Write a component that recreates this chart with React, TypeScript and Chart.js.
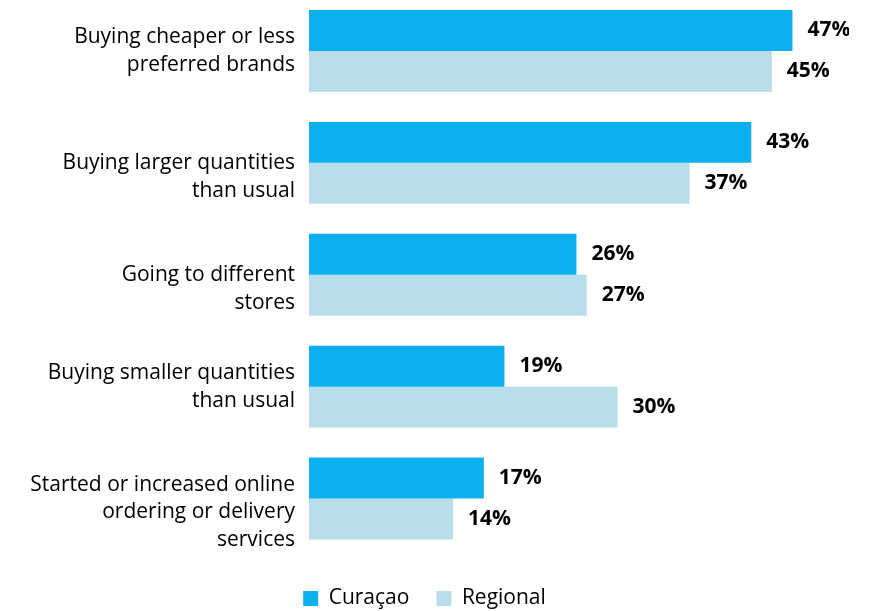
import React, { useEffect, useRef } from "react";
import { Chart, registerables } from "chart.js";

Chart.register(...registerables);

const categories: string[][] = [
  ["Buying cheaper or less", "preferred brands"],
  ["", "Buying larger quantities", "than usual"],
  ["", "Going to different", "stores"],
  ["Buying smaller quantities", "than usual"],
  ["", "Started or increased online", "ordering or delivery", "services"],
];
const curacao: number[] = [47, 43, 26, 19, 17];
const regional: number[] = [45, 37, 27, 30, 14];
const seriesNames: string[] = ["Curaçao", "Regional"];
const colors: string[] = ["#0BB0EE", "#B9DEEA"];

const FONT = "'Open Sans', sans-serif";

const valueLabels = {
  id: "valueLabels",
  afterDatasetsDraw(chart: any) {
    const ctx = chart.ctx;
    ctx.save();
    ctx.font = `bold 21px ${FONT}`;
    ctx.fillStyle = "#000";
    ctx.textAlign = "left";
    ctx.textBaseline = "middle";
    chart.data.datasets.forEach((ds: any, di: number) => {
      const meta = chart.getDatasetMeta(di);
      meta.data.forEach((el: any, i: number) => {
        ctx.fillText(`${ds.data[i]}%`, el.x + 15, el.y);
      });
    });
    ctx.restore();
  },
};

export default function App() {
  const ref = useRef<HTMLCanvasElement>(null);
  useEffect(() => {
    if (!ref.current) return;
    const chart = new Chart(ref.current, {
      type: "bar",
      data: {
        labels: categories,
        datasets: [
          { label: seriesNames[0], data: curacao, backgroundColor: colors[0], barPercentage: 1, categoryPercentage: 0.732 },
          { label: seriesNames[1], data: regional, backgroundColor: colors[1], barPercentage: 1, categoryPercentage: 0.732 },
        ],
      },
      options: {
        indexAxis: "y",
        animation: false,
        responsive: false,
        maintainAspectRatio: false,
        layout: { padding: 0 },
        scales: {
          x: {
            display: true,
            min: 0,
            max: 52.5,
            grid: { display: false, drawTicks: false },
            border: { display: false },
            ticks: { display: false },
            afterFit: (s: any) => {
              s.height = 6.5;
            },
          },
          y: {
            grid: { display: false, drawTicks: false },
            border: { display: false },
            ticks: {
              color: "#000",
              padding: 14,
              autoSkip: false,
              font: { family: FONT, size: 21, lineHeight: 1.33 },
            },
            afterFit: (s: any) => {
              s.width = 309;
              s.paddingTop = 0;
              s.paddingBottom = 0;
            },
          },
        },
        plugins: {
          legend: {
            position: "bottom",
            labels: {
              boxWidth: 15,
              boxHeight: 15,
              padding: 27,
              color: "#000",
              font: { family: FONT, size: 21 },
            },
          },
          tooltip: { enabled: false },
        },
      },
      plugins: [valueLabels],
    });
    return () => chart.destroy();
  }, []);
  return (
    <div style={{ position: "fixed", left: 0, top: -5, width: 849, height: 624.5 }}>
      <canvas ref={ref} width={849} height={624.5} />
    </div>
  );
}
